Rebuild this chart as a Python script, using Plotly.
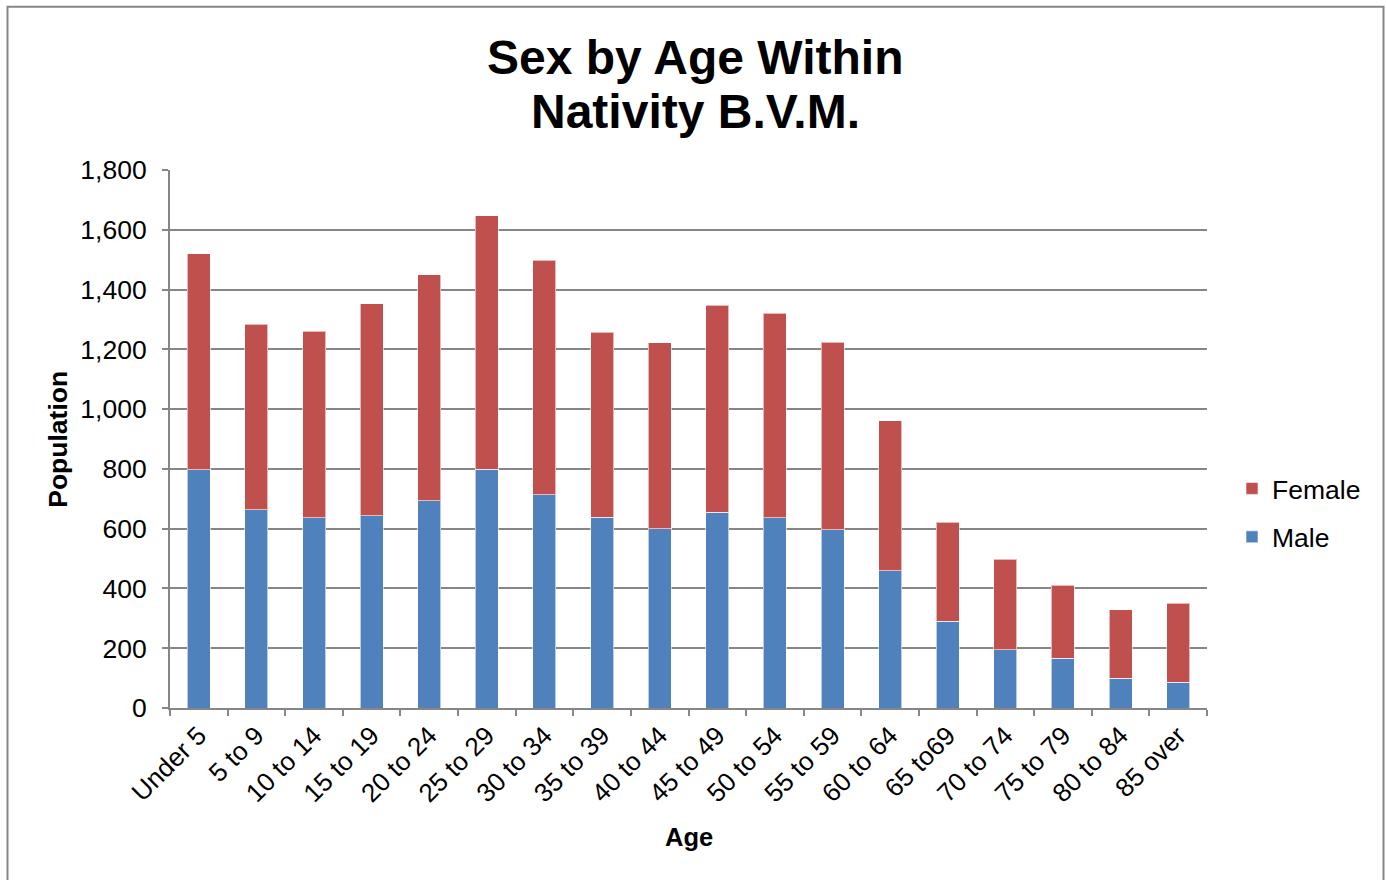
import plotly.graph_objects as go

ages = ["Under 5", "5 to 9", "10 to 14", "15 to 19", "20 to 24", "25 to 29",
        "30 to 34", "35 to 39", "40 to 44", "45 to 49", "50 to 54", "55 to 59",
        "60 to 64", "65 to69", "70 to 74", "75 to 79", "80 to 84", "85 over"]
male = [797, 663, 637, 643, 693, 799, 713, 639, 599, 655, 637, 597, 460, 291, 195, 167, 100, 87]
female = [723, 621, 624, 710, 756, 848, 785, 619, 623, 692, 684, 626, 501, 330, 302, 244, 228, 264]
y_ticks = [0, 200, 400, 600, 800, 1000, 1200, 1400, 1600, 1800]
y_tick_labels = ["0", "200", "400", "600", "800", "1,000", "1,200", "1,400", "1,600", "1,800"]

FONT = "Liberation Sans, Arial, sans-serif"
GRID = "#868686"

W, H = 1386, 880
L, R, T, B = 170, 1207, 170, 708.5

fig = go.Figure()
fig.add_trace(go.Bar(x=ages, y=male, name="Male", legendgroup="m", legendrank=2,
                     marker=dict(color="#4F81BD", line=dict(color="rgba(255,255,255,0.6)", width=1))))
fig.add_trace(go.Bar(x=ages, y=female, name="Female", legendgroup="f", legendrank=1,
                     marker=dict(color="#C0504D", line=dict(color="rgba(255,255,255,0.6)", width=1))))

def px(x):
    return (x - L) / (R - L)

def py(y):
    return (B - y) / (B - T)

fig.update_layout(
    width=W, height=H,
    margin=dict(l=L, r=W - R, t=T, b=H - B, autoexpand=False),
    barmode="stack", bargap=0.6,
    paper_bgcolor="white", plot_bgcolor="white",
    font=dict(family=FONT, size=26.5, color="black"),
    showlegend=True,
    legend=dict(x=px(1232), y=py(513), xanchor="left", yanchor="middle",
                traceorder="grouped", tracegroupgap=11,
                font=dict(size=26.5, family=FONT),
                itemwidth=30, bgcolor="rgba(0,0,0,0)"),
    xaxis=dict(type="category", tickangle=-45, tickson="boundaries",
               ticks="outside", ticklen=6, tickcolor=GRID, tickwidth=2,
               showline=True, linecolor=GRID, linewidth=2,
               showgrid=False, automargin=False,
               tickfont=dict(size=26, family=FONT)),
    yaxis=dict(range=[0, 1800], tickvals=y_ticks, ticktext=y_tick_labels,
               ticks="outside", ticklen=6, tickcolor=GRID, tickwidth=2,
               ticklabelstandoff=10,
               showline=True, linecolor=GRID, linewidth=2,
               showgrid=True, gridcolor=GRID, gridwidth=2,
               zeroline=False, automargin=False,
               tickfont=dict(size=26.5, family=FONT)),
)

# chart title
fig.add_annotation(text="<b>Sex by Age Within</b>", x=px(695.5), y=py(57),
                   xref="paper", yref="paper", showarrow=False,
                   xanchor="center", yanchor="middle",
                   font=dict(size=48, family=FONT, color="black"))
fig.add_annotation(text="<b>Nativity B.V.M.</b>", x=px(695.5), y=py(111),
                   xref="paper", yref="paper", showarrow=False,
                   xanchor="center", yanchor="middle",
                   font=dict(size=48, family=FONT, color="black"))
# axis titles
fig.add_annotation(text="<b>Age</b>", x=px(688.5), y=py(838),
                   xref="paper", yref="paper", showarrow=False,
                   xanchor="center", yanchor="middle",
                   font=dict(size=25.5, family=FONT, color="black"))
fig.add_annotation(text="<b>Population</b>", x=px(58), y=py(440),
                   xref="paper", yref="paper", showarrow=False, textangle=-90,
                   xanchor="center", yanchor="middle",
                   font=dict(size=26.5, family=FONT, color="black"))

# outer chart frame
fig.add_shape(type="rect", xref="paper", yref="paper",
              x0=px(7.5), x1=px(1383.5), y0=py(900), y1=py(6.5),
              line=dict(color="#868686", width=2), fillcolor="rgba(0,0,0,0)",
              layer="below")

fig.write_html("out.html", config={"displayModeBar": False},
               post_script="document.body.style.margin='0px';document.body.style.overflow='hidden';")
